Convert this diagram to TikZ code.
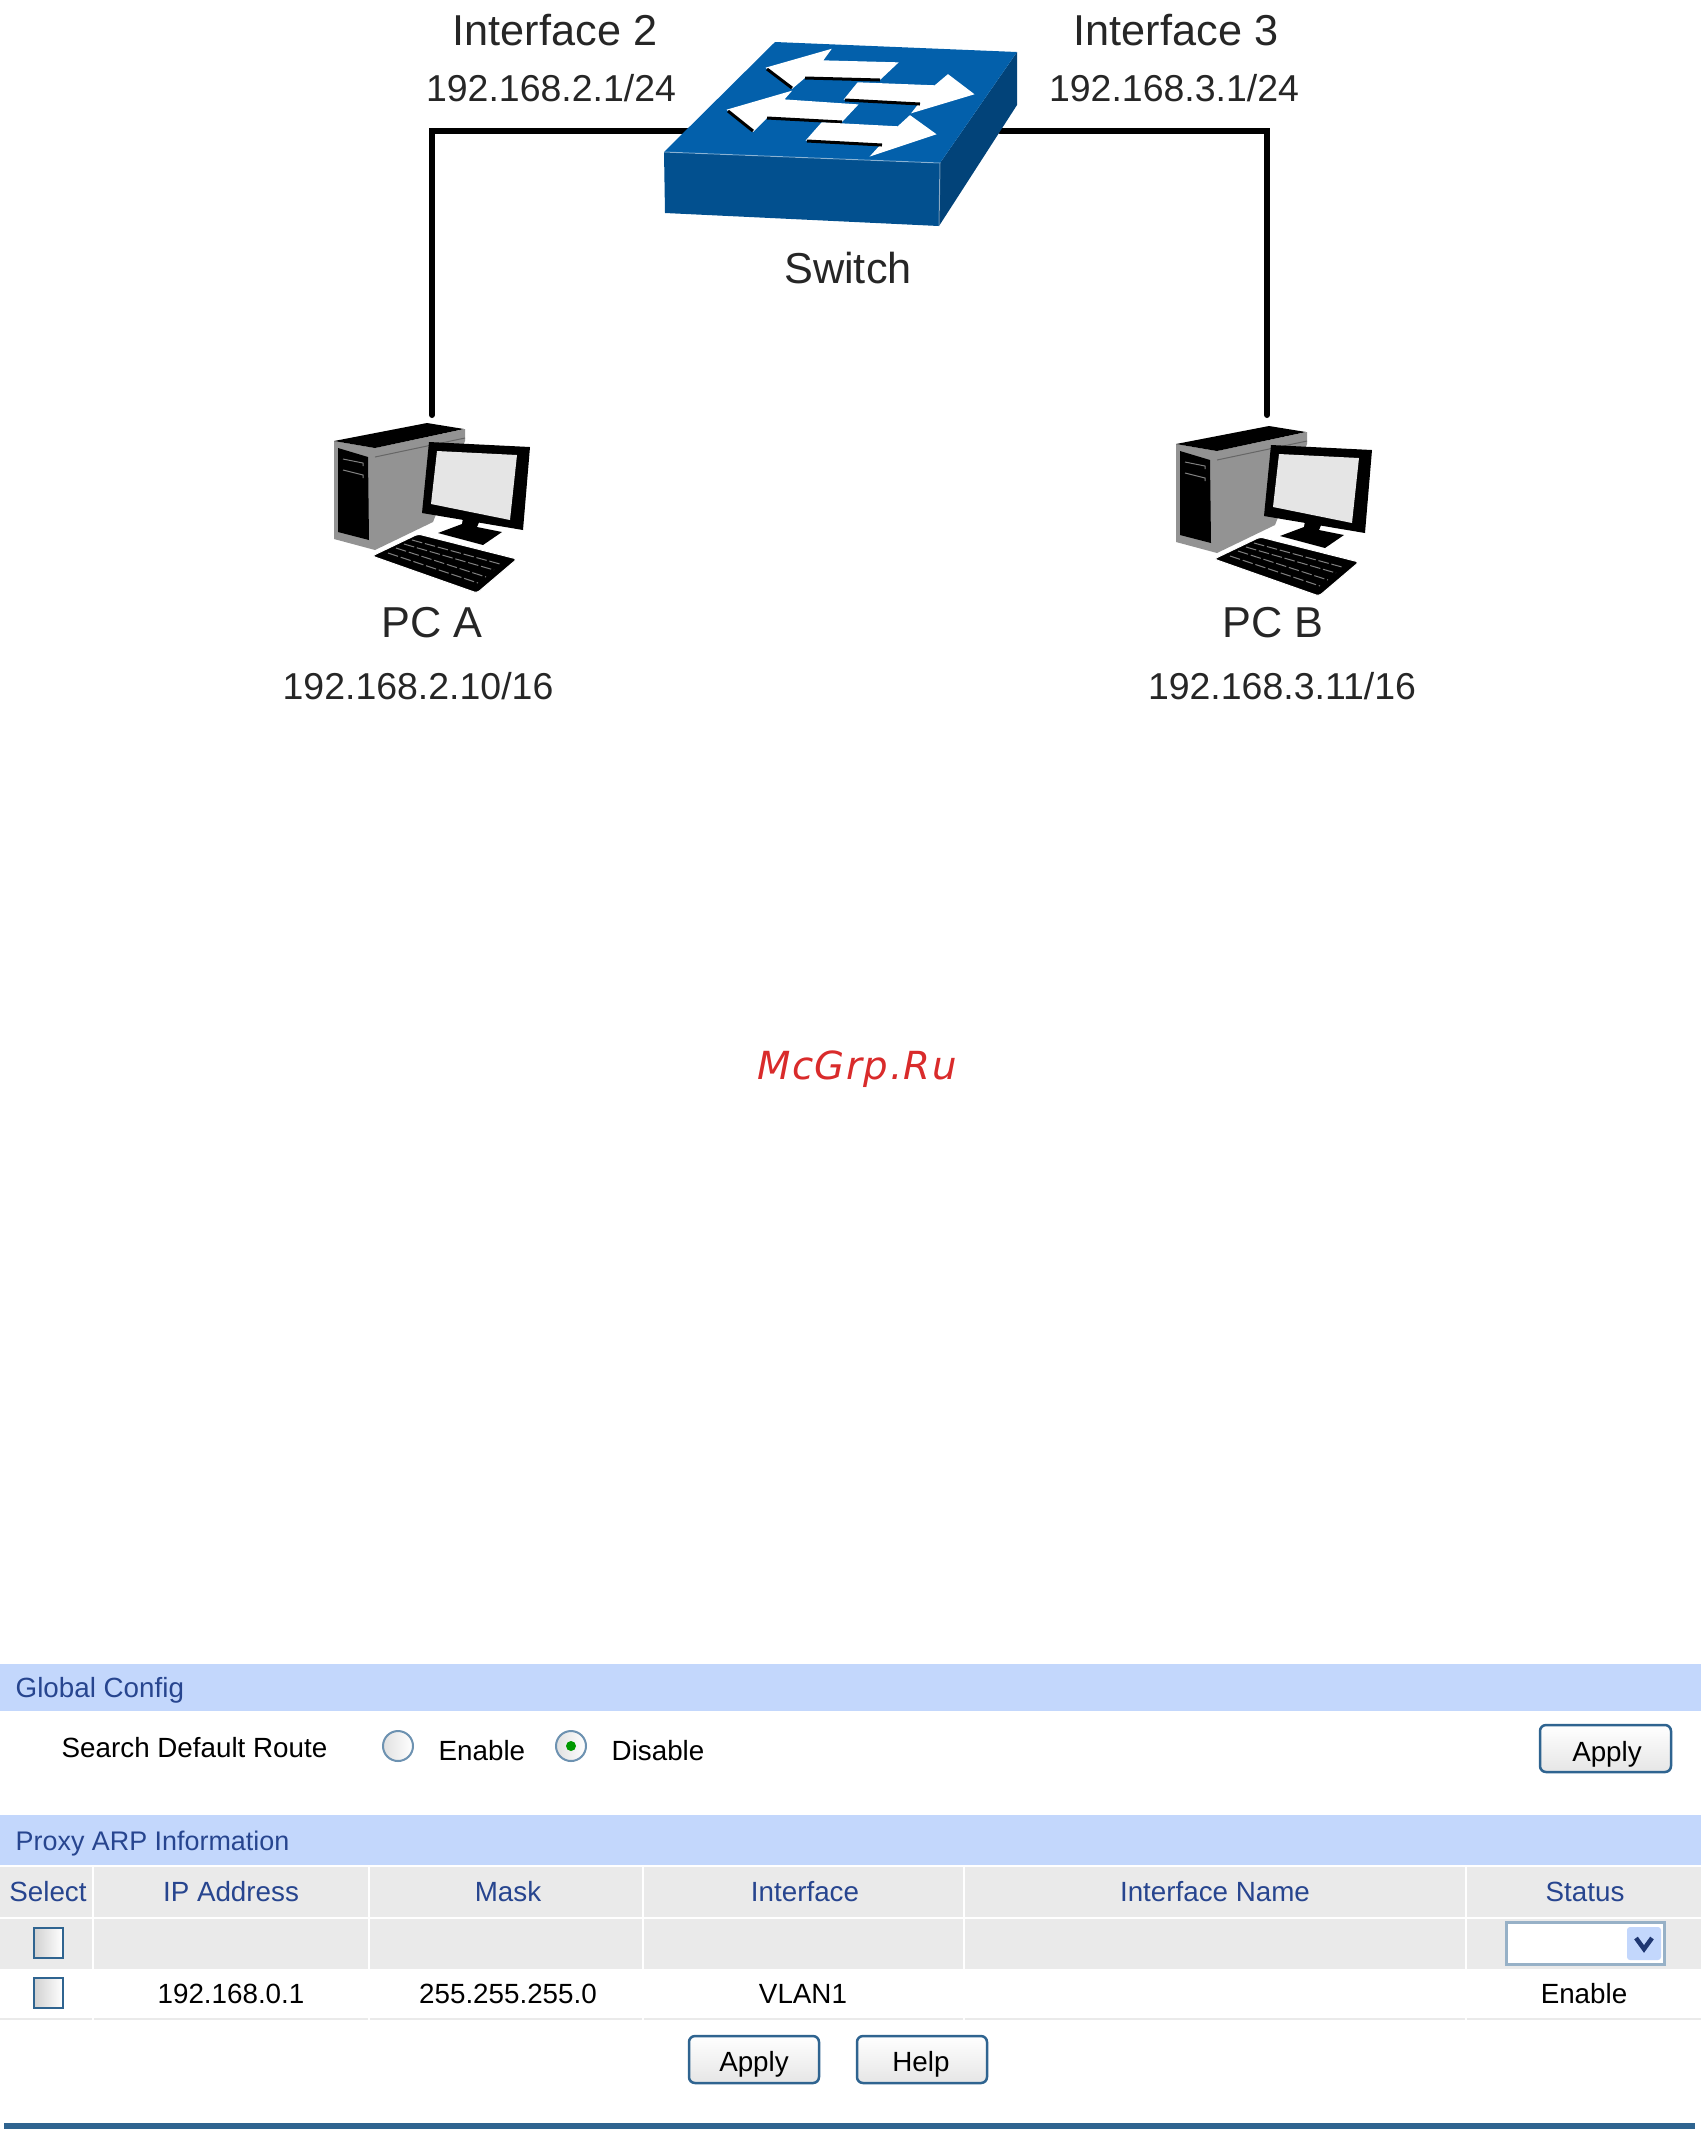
\documentclass[tikz,border=0pt]{standalone}
\usepackage{fontspec}
\setmainfont{Liberation Sans}
\newfontfamily\markfont[LetterSpace=4]{DejaVu Sans}
\definecolor{swtop}{HTML}{0360AB}
\definecolor{swfront}{HTML}{02508F}
\definecolor{swside}{HTML}{024379}
\definecolor{band}{HTML}{C3D7FC}
\definecolor{rowgray}{HTML}{EAEAEA}
\definecolor{uiblue}{HTML}{27458F}
\definecolor{uiedge}{HTML}{2F6490}
\definecolor{markred}{HTML}{D92B2B}
\tikzset{
  biglabel/.style={font=\fontsize{12.3}{14}\selectfont, text=black!85, anchor=mid},
  iplabel/.style={font=\fontsize{10.65}{13}\selectfont, text=black!85, anchor=mid},
  uitext/.style={font=\fontsize{7.9}{10}\selectfont, text=black, anchor=mid},
  uihead/.style={font=\fontsize{7.9}{10}\selectfont, text=uiblue, anchor=mid},
  uibutton/.style={draw=uiedge, line width=0.25mm, rounded corners=0.6mm, top color=white, bottom color=black!10},
  uicheck/.style={draw=uiedge, line width=0.25mm, left color=black!18, right color=white},
  uiradio/.style={draw=uiedge!70, line width=0.2mm, left color=black!12, right color=white},
  link/.style={line width=0.6mm, line cap=round},
  pc/.pic={
    % tower
    \fill[gray!85] (334,441) -- (375,448) -- (375,550) -- (334,539) -- cycle;
    \fill[gray!85] (375,448) -- (465,429) -- (465,441) -- (433,522) -- (375,550) -- cycle;
    \fill[black] (334,441) -- (427,423) -- (464,429) -- (375,448) -- cycle;
    \draw[black!60, line width=0.1mm] (375,457) -- (465,438);
    \fill[black] (338,448) -- (368,457) -- (369,540) -- (338,532) -- cycle;
    \draw[gray, line width=0.1mm] (343,459) -- (363,463) -- (363,466);
    \draw[gray, line width=0.1mm] (343,470) -- (363,475) -- (363,478);
    % monitor
    \fill[black] (438,533) -- (462,524) -- (463,518) -- (480,520) -- (477,527) -- (502,532) -- (483,545) -- cycle;
    \fill[black] (429,442) -- (530,447) -- (523,530) -- (422,513) -- cycle;
    \fill[black!10] (437,451) -- (517,455) -- (510,520) -- (431,504) -- cycle;
    % keyboard
    \filldraw[fill=black, draw=white, line width=0.1mm, rounded corners=0.3mm] (372,556) -- (418,534) -- (517,559) -- (477,593) -- cycle;
    \foreach \xa/\ya/\xb/\yb in {388/553/478/583, 396/548/486/577, 404/544/494/570, 412/540/500/564}
      \draw[gray, line width=0.1mm, dash pattern=on 3pt off 0.8pt] (\xa,\ya) -- (\xb,\yb);
  }
}
\begin{document}
\begin{tikzpicture}[x=0.01cm,y=-0.01cm]
\useasboundingbox (0,0) rectangle (1701,2129);
% network
\coordinate (swL) at (700,131);
\coordinate (swR) at (1000,131);
\coordinate (pcAtop) at (432,415);
\coordinate (pcBtop) at (1267,415);
\draw[link] (swL) -| (pcAtop);
\draw[link] (swR) -| (pcBtop);
% switch
\fill[swfront] (664,152) -- (940,163) -- (939,226) -- (665,213) -- cycle;
\fill[swside] (940,163) -- (1017,52) -- (1017,105) -- (939,226) -- cycle;
\fill[swtop] (664,152) -- (775,42) -- (1017,52) -- (940,163) -- cycle;
\draw[white, opacity=0.4, line width=0.1mm] (664,152) -- (940,163) -- (939,226);
\filldraw[fill=white, draw=white] (767,68) -- (830,50) -- (822,61) -- (897,63) -- (880,79) -- (805,77) -- (792,88) -- cycle;
\draw[line width=0.3mm] (767,69) -- (792,88);
\draw[line width=0.3mm] (805,78) -- (880,80);
\filldraw[fill=white, draw=white] (728,110) -- (790,92) -- (783,100) -- (857,105) -- (842,121) -- (767,117) -- (753,131) -- cycle;
\draw[line width=0.3mm] (728,111) -- (753,131);
\draw[line width=0.3mm] (767,118) -- (842,122);
\filldraw[fill=white, draw=white] (973,94) -- (948,75) -- (935,86) -- (858,83) -- (845,99) -- (920,103) -- (913,112) -- cycle;
\draw[line width=0.3mm] (845,100) -- (920,104);
\filldraw[fill=white, draw=white] (935,134) -- (910,116) -- (898,127) -- (822,123) -- (807,140) -- (882,144) -- (872,155) -- cycle;
\draw[line width=0.3mm] (807,141) -- (882,145);
\pic (pcA) at (0,0) {pc};
\pic (pcB) at (842,3) {pc};
\node[biglabel] (if2) at (555,36) {Interface 2};
\node[iplabel] (if2ip) at (551,92) {192.168.2.1/24};
\node[biglabel] (if3) at (1176,36) {Interface 3};
\node[iplabel] (if3ip) at (1174,92) {192.168.3.1/24};
\node[biglabel] (swname) at (848,274) {Switch};
\node[biglabel] (pcAname) at (432,628) {PC A};
\node[iplabel] (pcAip) at (418,690) {192.168.2.10/16};
\node[biglabel] (pcBname) at (1273,628) {PC B};
\node[iplabel] (pcBip) at (1282,690) {192.168.3.11/16};
\node[font=\fontsize{11}{13}\markfont\itshape, text=markred, anchor=mid] (mark) at (857,1070) {McGrp.Ru};
% global config
\fill[band] (0,1664) rectangle (1701,1711);
\node[uihead, anchor=mid west, inner xsep=0pt] (globalhead) at (15,1688) {Global Config};
\node[uitext, anchor=mid west, inner xsep=0pt] (search) at (61,1748) {Search Default Route};
\draw[uiradio] (398,1746) circle (15);
\draw[uiradio] (571,1746) circle (15);
\fill[green!60!black] (571,1746) circle (5);
\node[uitext, anchor=mid west, inner xsep=0pt] (enableopt) at (438,1751) {Enable};
\node[uitext, anchor=mid west, inner xsep=0pt] (disableopt) at (611,1751) {Disable};
\draw[uibutton] (1540,1725) rectangle (1671,1772);
\node[uitext] (applytop) at (1607,1752) {Apply};
% proxy arp table
\fill[band] (0,1815) rectangle (1701,1865);
\node[uihead, anchor=mid west, inner xsep=0pt, font=\fontsize{7.65}{10}\selectfont] (proxyhead) at (15,1841) {Proxy ARP Information};
\fill[rowgray] (0,1867) rectangle (1701,1969);
\fill[rowgray] (0,2018) rectangle (1701,2020);
\draw[white, line width=0.2mm] (0,1918) -- (1701,1918);
\foreach \x in {93,369,643,964,1466}
  \draw[white, line width=0.25mm] (\x,1867) -- (\x,2021);
\node[uihead] (hselect) at (48,1892) {Select};
\node[uihead] (hip) at (231,1892) {IP Address};
\node[uihead] (hmask) at (508,1892) {Mask};
\node[uihead] (hif) at (805,1892) {Interface};
\node[uihead] (hname) at (1215,1892) {Interface Name};
\node[uihead] (hstatus) at (1585,1892) {Status};
\draw[uicheck] (34,1928) rectangle (63,1958);
\draw[uicheck] (34,1978) rectangle (63,2008);
\draw[uiedge!50, fill=white, line width=0.3mm] (1506,1922) rectangle (1664,1964);
\fill[band, rounded corners=0.3mm] (1627,1927) rectangle (1661,1960);
\draw[uiblue!80!black, line width=0.45mm] (1636,1938) -- (1644,1949) -- (1652,1938);
\node[uitext] (rowip) at (231,1994) {192.168.0.1};
\node[uitext] (rowmask) at (508,1994) {255.255.255.0};
\node[uitext] (rowif) at (803,1994) {VLAN1};
\node[uitext] (rowstatus) at (1584,1994) {Enable};
\draw[uibutton] (689,2036) rectangle (819,2083);
\node[uitext] (applybot) at (754,2062) {Apply};
\draw[uibutton] (857,2036) rectangle (987,2083);
\node[uitext] (helpbot) at (921,2062) {Help};
\fill[uiedge] (4,2123) rectangle (1695,2129);
\end{tikzpicture}
\end{document}
